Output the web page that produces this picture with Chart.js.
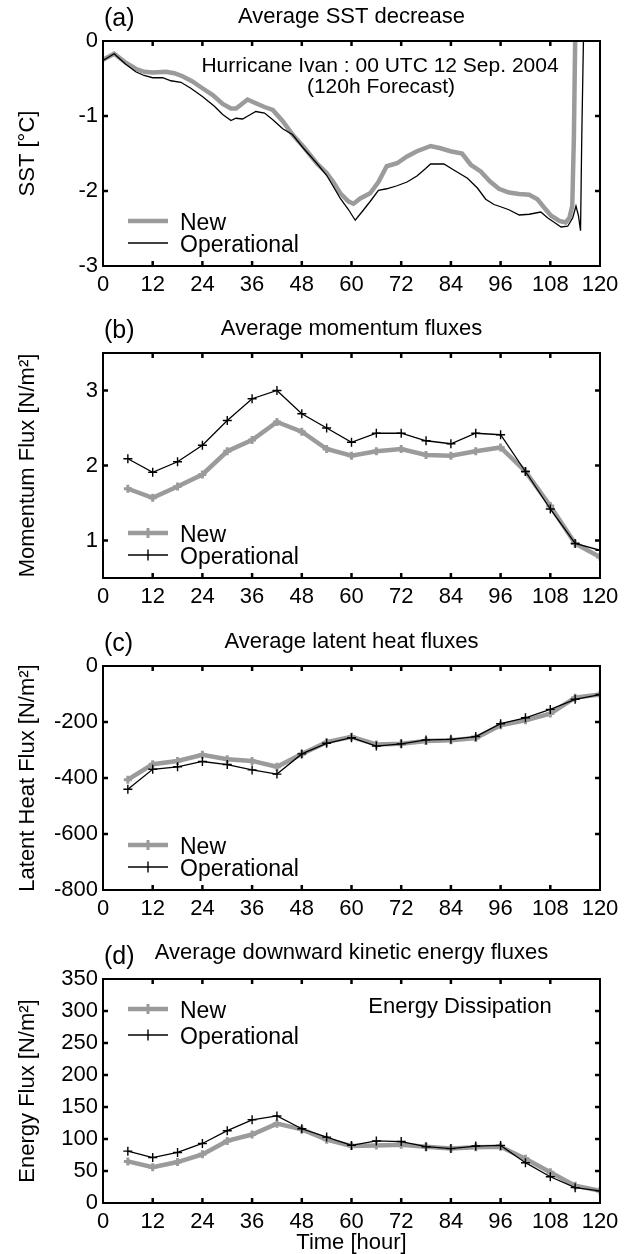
<!DOCTYPE html>
<html>
<head>
<meta charset="utf-8">
<script src="https://cdn.jsdelivr.net/npm/chart.js@4.4.0/dist/chart.umd.min.js"></script>
<style>
  html, body { margin: 0; padding: 0; background: #fff; }
  #wrap { position: relative; width: 627px; height: 1254px; overflow: hidden; }
  #wrap canvas { position: absolute; left: 0; }
</style>
</head>
<body>
<div id="wrap">
  <canvas id="sstChart"></canvas>
  <canvas id="momChart"></canvas>
  <canvas id="latChart"></canvas>
  <canvas id="keChart"></canvas>
</div>
<script>
// values (forecast hour on x)
const xTicks = [0, 12, 24, 36, 48, 60, 72, 84, 96, 108, 120];

// (a) average SST decrease, continuous traces
const sstHoursOper = [0, 2.7, 5.5, 7.9, 9.9, 12, 14.4, 16.4, 18.8, 21.2, 24, 26.9, 28.9, 30.9, 32.1,
  33.7, 35.3, 36.9, 39, 41, 43.4, 45.8, 48.4, 51.6, 54, 55.6, 57.3, 59.3, 60.9, 62.5,
  64.5, 66.5, 68.5, 71, 73.4, 75.8, 77.9, 79.1, 82.3, 84.7, 88, 90.4, 92.4, 94.4, 96,
  98, 100.5, 102.9, 105.7, 107.4, 109, 110.6, 112.2, 113.4, 114.2, 114.8, 115.3, 115.6, 116, 116.4];
const sstOper = [-0.26, -0.17, -0.31, -0.41, -0.46, -0.49, -0.49, -0.53, -0.55, -0.63, -0.74, -0.87, -0.98, -1.06, -1.03,
  -1.04, -0.99, -0.94, -0.96, -1.05, -1.17, -1.25, -1.43, -1.63, -1.79, -1.94, -2.10, -2.25, -2.39, -2.28,
  -2.14, -1.99, -1.97, -1.93, -1.88, -1.80, -1.70, -1.64, -1.64, -1.72, -1.83, -1.96, -2.11, -2.18, -2.21,
  -2.25, -2.32, -2.31, -2.28, -2.36, -2.42, -2.48, -2.47, -2.36, -2.20, -2.33, -2.53, -1.27, 0, 0.5];
const sstHoursNew = [0, 2.7, 5.5, 7.9, 9.9, 12, 15.2, 17.2, 19.2, 21.6, 24, 26.5, 28.9, 30.9, 32.1,
  33.3, 34.9, 36.9, 39, 41, 43.4, 45.8, 48.4, 51.6, 54, 55.6, 57.3, 59.3, 60.5, 62.1,
  64.5, 66.5, 68.5, 71, 73.4, 75.8, 79.1, 81.5, 83.9, 86.7, 88.8, 91.2, 93.4, 95.6, 98,
  100.5, 102.9, 104.9, 106.5, 108.2, 110.2, 111.7, 112.6, 113.3, 113.7, 114.0, 114.4];
const sstNew = [-0.25, -0.17, -0.29, -0.37, -0.41, -0.42, -0.41, -0.43, -0.47, -0.54, -0.63, -0.72, -0.84, -0.90, -0.90,
  -0.85, -0.78, -0.83, -0.88, -0.92, -1.07, -1.25, -1.41, -1.63, -1.76, -1.88, -2.03, -2.14, -2.17, -2.10,
  -2.03, -1.88, -1.67, -1.63, -1.54, -1.47, -1.40, -1.43, -1.47, -1.50, -1.65, -1.74, -1.87, -1.97, -2.02,
  -2.04, -2.05, -2.11, -2.22, -2.33, -2.40, -2.42, -2.36, -2.20, -1.27, 0, 0.5];
const sstTicks = [-3, -2, -1, 0];

// (b)-(d) six-hourly averages
const fluxHours = [6, 12, 18, 24, 30, 36, 42, 48, 54, 60, 66, 72, 78, 84, 90, 96, 102, 108, 114, 120];
const momNew  = [1.69, 1.57, 1.72, 1.88, 2.19, 2.34, 2.58, 2.45, 2.22, 2.13, 2.19, 2.22, 2.14, 2.13, 2.19, 2.24, 1.92, 1.46, 0.96, 0.78];
const momOper = [2.09, 1.91, 2.05, 2.27, 2.60, 2.89, 3.00, 2.69, 2.50, 2.31, 2.43, 2.43, 2.33, 2.29, 2.43, 2.41, 1.92, 1.42, 0.96, 0.87];
const momTicks = [1, 2, 3];

const latNew  = [-406, -351, -339, -317, -333, -339, -360, -314, -272, -253, -280, -278, -268, -265, -257, -212, -194, -170, -113, -102];
const latOper = [-440, -369, -360, -341, -352, -371, -386, -314, -276, -256, -286, -278, -264, -262, -252, -206, -185, -155, -119, -102];
const latTicks = [-800, -600, -400, -200, 0];

const keNew  = [65, 56, 64, 76, 97, 107, 124, 115, 99, 89, 90, 91, 88, 85, 87, 88, 69, 48, 27, 19];
const keOper = [81, 71, 79, 93, 113, 130, 136, 116, 103, 90, 97, 96, 88, 85, 89, 90, 63, 41, 24, 19];
const keTicks = [0, 50, 100, 150, 200, 250, 300, 350];

const FONT = "'Liberation Sans', Arial, Helvetica, sans-serif";
const GRAY = '#9b9b9b';

function series(label, hours, values, style) {
  return { label, data: hours.map((h, i) => ({ x: h, y: values[i] })), ...style };
}

const newStyle = {
  borderColor: GRAY, backgroundColor: GRAY, borderWidth: 4.5,
  pointStyle: 'cross', pointRadius: 4, pointBorderWidth: 3, order: 1
};
const operStyle = {
  borderColor: '#000', backgroundColor: '#000', borderWidth: 1.3,
  pointStyle: 'cross', pointRadius: 4.5, pointBorderWidth: 1.4, order: 0
};

// matlab-ish box, inward ticks, panel letter/title, in-axes legend and notes
const panelDeco = {
  id: 'panelDeco',
  afterDatasetsDraw(chart, args, o) {
    const { ctx, chartArea: a, scales: { x, y } } = chart;
    ctx.save();
    ctx.strokeStyle = '#000';
    ctx.lineWidth = 2.5;
    ctx.beginPath();
    x.ticks.forEach(t => {
      if (t.value <= x.min || t.value >= x.max) return;
      const px = x.getPixelForValue(t.value);
      ctx.moveTo(px, a.bottom); ctx.lineTo(px, a.bottom - 5);
      ctx.moveTo(px, a.top); ctx.lineTo(px, a.top + 5);
    });
    y.ticks.forEach(t => {
      if (t.value <= y.min || t.value >= y.max) return;
      const py = y.getPixelForValue(t.value);
      ctx.moveTo(a.left, py); ctx.lineTo(a.left + 5, py);
      ctx.moveTo(a.right, py); ctx.lineTo(a.right - 5, py);
    });
    ctx.stroke();
    ctx.lineWidth = 2;
    ctx.strokeRect(a.left, a.top, a.right - a.left, a.bottom - a.top);

    ctx.fillStyle = '#000';
    ctx.textBaseline = 'alphabetic';
    ctx.font = `25px ${FONT}`;
    ctx.textAlign = 'left';
    ctx.fillText(o.letter, a.left + 1, a.top - 15);
    ctx.font = `22px ${FONT}`;
    ctx.textAlign = 'center';
    ctx.fillText(o.title, (a.left + a.right) / 2, a.top - o.titleGap);

    (o.notes || []).forEach(n => {
      ctx.font = `${n.size}px ${FONT}`;
      ctx.fillText(n.text, a.left + n.dx, a.top + n.dy);
    });

    // legend
    ctx.font = `23px ${FONT}`;
    ctx.textAlign = 'left';
    chart.data.datasets.forEach((ds, i) => {
      const base = o.legendAt === 'top' ? a.top + 39 + i * 26 : a.bottom - 36 + i * 22;
      const ly = base - 9;
      ctx.strokeStyle = ds.borderColor;
      ctx.lineWidth = ds.borderWidth;
      ctx.beginPath();
      ctx.moveTo(a.left + 25, ly); ctx.lineTo(a.left + 65, ly);
      ctx.stroke();
      if (ds.pointRadius > 0) {
        const r = ds.pointRadius + 1, cx = a.left + 45;
        ctx.lineWidth = ds.pointBorderWidth;
        ctx.beginPath();
        ctx.moveTo(cx, ly - r); ctx.lineTo(cx, ly + r);
        ctx.stroke();
      }
      ctx.fillStyle = '#000';
      ctx.fillText(ds.label, a.left + 77, base);
    });
    ctx.restore();
  }
};

function axes(yMin, yMax, yTicks, yTitle, xHeight, xTitle) {
  const tickFont = { family: FONT, size: 22 };
  return {
    x: {
      type: 'linear', min: 0, max: 120,
      afterBuildTicks: s => { s.ticks = xTicks.map(v => ({ value: v })); },
      afterFit: s => { s.height = xHeight; s.paddingLeft = 0; s.paddingRight = 0; },
      grid: { display: false, drawTicks: false },
      border: { display: false },
      ticks: { color: '#000', font: tickFont, padding: 6, maxRotation: 0, autoSkip: false },
      title: {
        display: !!xTitle, text: xTitle || '', color: '#000',
        font: { family: FONT, size: 22, lineHeight: 1 }, padding: { top: 0, bottom: 0 }
      }
    },
    y: {
      type: 'linear', min: yMin, max: yMax,
      afterBuildTicks: s => { s.ticks = yTicks.map(v => ({ value: v })); },
      afterFit: s => { s.width = 103; s.paddingTop = 0; s.paddingBottom = 0; },
      grid: { display: false, drawTicks: false },
      border: { display: false },
      ticks: { color: '#000', font: tickFont, padding: 5, autoSkip: false },
      title: {
        display: true, text: yTitle, color: '#000',
        font: { family: FONT, size: 22 }, padding: { top: 15, bottom: 0 }
      }
    }
  };
}

function makePanel(id, top, height, plotHeight, xHeight, datasets, scales, deco) {
  const canvas = document.getElementById(id);
  canvas.width = 627;
  canvas.height = height;
  canvas.style.top = top + 'px';
  return new Chart(canvas.getContext('2d'), {
    type: 'line',
    data: { datasets },
    options: {
      responsive: false,
      animation: false,
      devicePixelRatio: 1,
      layout: { padding: { left: 0, right: 27, top: 41, bottom: height - 41 - plotHeight - xHeight } },
      elements: { line: { tension: 0 } },
      scales,
      plugins: {
        legend: { display: false },
        title: { display: false },
        tooltip: { enabled: false },
        panelDeco: deco
      }
    },
    plugins: [panelDeco]
  });
}

makePanel('sstChart', 0, 312, 225, 36, [
  series('New', sstHoursNew, sstNew, { ...newStyle, pointRadius: 0 }),
  series('Operational', sstHoursOper, sstOper, { ...operStyle, pointRadius: 0 })
], axes(-3, 0, sstTicks, 'SST [°C]', 36), {
  letter: '(a)', title: 'Average SST decrease', titleGap: 18, legendAt: 'bottom',
  notes: [
    { text: 'Hurricane Ivan : 00 UTC 12 Sep. 2004', dx: 277, dy: 31, size: 21 },
    { text: '(120h Forecast)', dx: 278, dy: 52, size: 21 }
  ]
});

makePanel('momChart', 312, 313, 225, 36, [
  series('New', fluxHours, momNew, newStyle),
  series('Operational', fluxHours, momOper, operStyle)
], axes(0.5, 3.5, momTicks, 'Momentum Flux [N/m²]', 36), {
  letter: '(b)', title: 'Average momentum fluxes', titleGap: 18, legendAt: 'bottom'
});

makePanel('latChart', 625, 313, 224, 36, [
  series('New', fluxHours, latNew, newStyle),
  series('Operational', fluxHours, latOper, operStyle)
], axes(-800, 0, latTicks, 'Latent Heat Flux [N/m²]', 36), {
  letter: '(c)', title: 'Average latent heat fluxes', titleGap: 18, legendAt: 'bottom'
});

makePanel('keChart', 938, 316, 224, 51, [
  series('New', fluxHours, keNew, newStyle),
  series('Operational', fluxHours, keOper, operStyle)
], axes(0, 350, keTicks, 'Energy Flux [N/m²]', 51, 'Time [hour]'), {
  letter: '(d)', title: 'Average downward kinetic energy fluxes', titleGap: 20, legendAt: 'top',
  notes: [{ text: 'Energy Dissipation', dx: 357, dy: 34, size: 22 }]
});
</script>
</body>
</html>
